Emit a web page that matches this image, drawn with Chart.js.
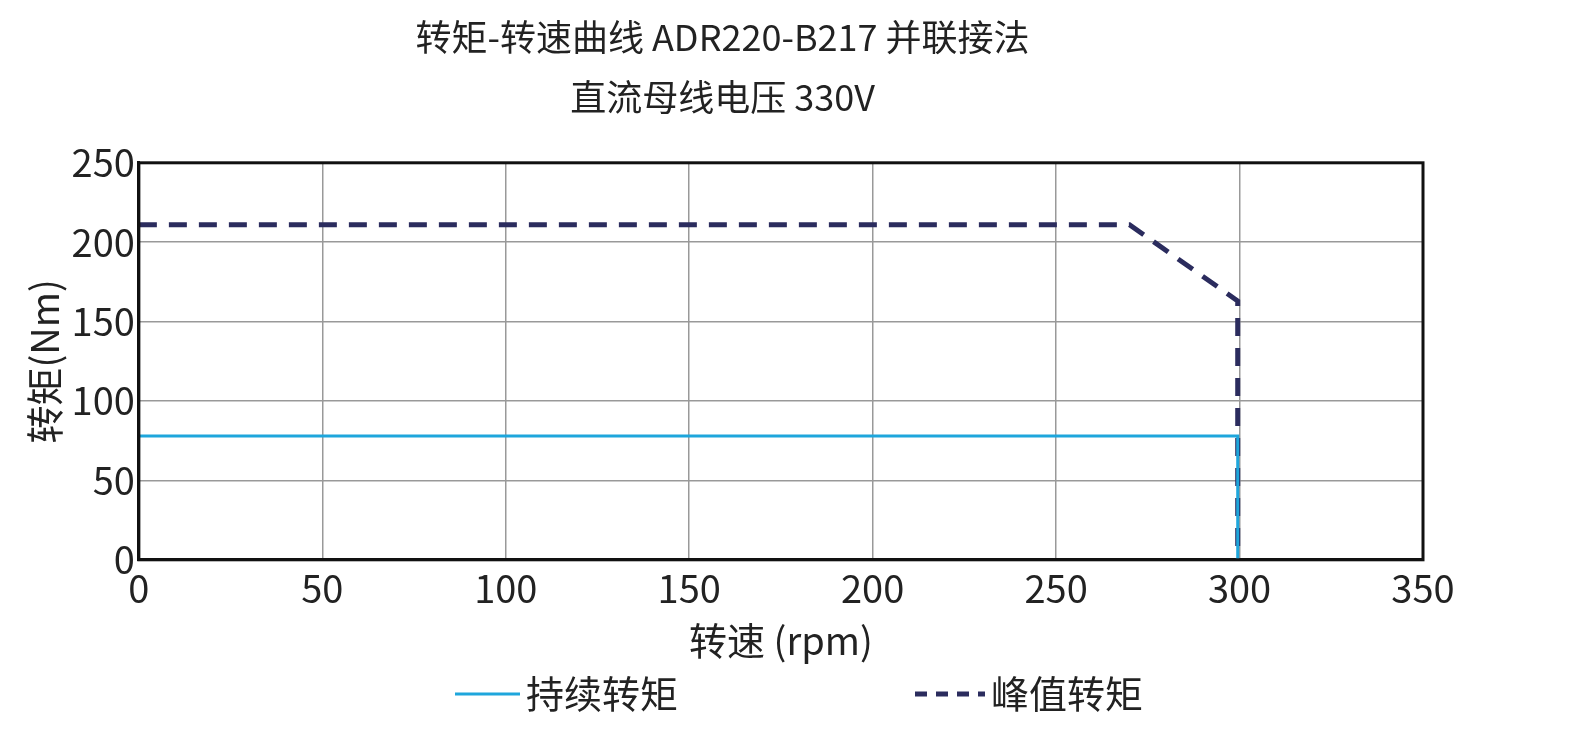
<!DOCTYPE html>
<html lang="zh">
<head>
  <meta charset="UTF-8">
  <title>转矩-转速曲线</title>
  <script src="https://cdn.jsdelivr.net/npm/chart.js"></script>
  <style>
    body { margin: 0; background: #fff; }
    #wrap { width: 1573px; height: 747px; }
  </style>
</head>
<body>
<div id="wrap"><canvas id="torqueChart"></canvas></div>
<script>
  const seriesNames = ['持续转矩', '峰值转矩'];
  const contSpeed = [0, 299.5, 299.5];
  const contTorque = [78, 78, 0];
  const peakSpeed = [0, 270, 299.5, 299.5];
  const peakTorque = [211, 211, 163, 0];
  const xTicks = [0, 50, 100, 150, 200, 250, 300, 350];
  const yTicks = [0, 50, 100, 150, 200, 250];

  const font = 'Noto Sans CJK SC';
  const toPoints = (xs, ys) => xs.map((x, i) => ({ x: x, y: ys[i] }));

  new Chart(document.getElementById('torqueChart'), {
    type: 'line',
    data: {
      datasets: [{
        label: seriesNames[0],
        data: toPoints(contSpeed, contTorque),
        borderColor: '#1ea6dc',
        borderWidth: 3,
        pointRadius: 0
      }, {
        label: seriesNames[1],
        data: toPoints(peakSpeed, peakTorque),
        borderColor: '#2b2c5e',
        borderWidth: 5,
        borderDash: [18, 12],
        pointRadius: 0
      }]
    },
    options: {
      responsive: true,
      maintainAspectRatio: false,
      animation: false,
      layout: { padding: { left: 22, right: 150, top: 0, bottom: 84 } },
      plugins: {
        title: {
          display: true,
          text: ['转矩-转速曲线 ADR220-B217 并联接法', '直流母线电压 330V'],
          color: '#222',
          font: { family: font, size: 36, weight: 'normal', lineHeight: 1.65 },
          padding: { top: 8, bottom: 36 }
        },
        legend: { display: false },
        tooltip: { enabled: false }
      },
      scales: {
        x: {
          type: 'linear',
          min: 0, max: 350,
          afterBuildTicks: s => { s.ticks = xTicks.map(v => ({ value: v })); },
          ticks: { color: '#222', font: { family: font, size: 38 }, padding: 6 },
          grid: { color: '#999', lineWidth: 1.5, drawTicks: false },
          border: { color: '#111', width: 3 },
          title: { display: true, text: '转速 (rpm)', color: '#222', font: { family: font, size: 38 }, padding: 0 }
        },
        y: {
          min: 0, max: 250,
          afterBuildTicks: s => { s.ticks = yTicks.map(v => ({ value: v })); },
          ticks: { color: '#222', font: { family: font, size: 38 }, padding: 4 },
          grid: { color: '#999', lineWidth: 1.5, drawTicks: false },
          border: { color: '#111', width: 3 },
          title: { display: true, text: '转矩(Nm)', color: '#222', font: { family: font, size: 38 }, padding: 0 }
        }
      }
    },
    plugins: [{
      id: 'frameAndLegend',
      afterDraw(chart) {
        const { ctx, chartArea: a } = chart;
        ctx.save();
        ctx.strokeStyle = '#111';
        ctx.lineWidth = 3;
        ctx.strokeRect(a.left, a.top, a.right - a.left, a.bottom - a.top);

        // legend drawn by hand so the dashed style shows
        const y = 694;
        const items = [
          { x: 455, len: 65, ds: chart.data.datasets[0] },
          { x: 915, len: 70, ds: chart.data.datasets[1] }
        ];
        ctx.font = '38px "' + font + '"';
        ctx.textBaseline = 'middle';
        ctx.fillStyle = '#222';
        items.forEach(it => {
          ctx.strokeStyle = it.ds.borderColor;
          ctx.lineWidth = it.ds.borderWidth;
          ctx.setLineDash(it.ds.borderDash ? [12, 9] : []);
          ctx.beginPath();
          ctx.moveTo(it.x, y);
          ctx.lineTo(it.x + it.len, y);
          ctx.stroke();
          ctx.fillText(it.ds.label, it.x + it.len + 6, y);
        });
        ctx.restore();
      }
    }]
  });
</script>
</body>
</html>
